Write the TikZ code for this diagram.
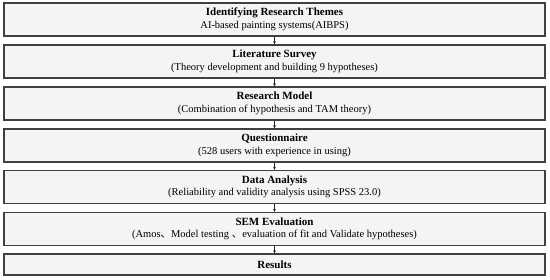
\documentclass[tikz,border=0pt]{standalone}
\usepackage{fontspec}
\setmainfont{Liberation Serif}
\newfontfamily\cjk{Noto Sans CJK SC}
\usetikzlibrary{arrows.meta}
\definecolor{boxfill}{HTML}{F4F4F4}
\definecolor{boxline}{HTML}{404040}
\newcommand{\stagetitle}[1]{{\fontsize{11}{12.5}\selectfont\bfseries #1}}
\begin{document}
\begin{tikzpicture}[x=1pt,y=-1pt,
  stagebox/.style={draw=boxline,fill=boxfill,line width=1.1pt,minimum width=541pt,minimum height=33pt,inner sep=0pt,align=center,font=\fontsize{10.5}{12.5}\selectfont},
  flowarrow/.style={draw=black!85,line width=0.6pt,-{Stealth[length=3.2pt,width=2.8pt]}}]
\useasboundingbox (0,0) rectangle (550,280);
\node[stagebox] (b1) at (274.5,19.5) {\stagetitle{Identifying Research Themes}\\AI-based painting systems(AIBPS)};
\node[stagebox] (b2) at (274.5,61.5) {\stagetitle{Literature Survey}\\(Theory development and building 9 hypotheses)};
\node[stagebox] (b3) at (274.5,103.5) {\stagetitle{Research Model}\\(Combination of hypothesis and TAM theory)};
\node[stagebox] (b4) at (274.5,145.5) {\stagetitle{Questionnaire}\\(528 users with experience in using)};
\node[stagebox] (b5) at (274.5,187) {\stagetitle{Data Analysis}\\(Reliability and validity analysis using SPSS 23.0)};
\node[stagebox] (b6) at (274.5,229) {\stagetitle{SEM Evaluation}\\(Amos{\cjk 、}Model testing {\cjk 、}evaluation of fit and Validate hypotheses)};
\node[stagebox,minimum height=21pt] (b7) at (274.5,264.5) {\stagetitle{Results}};
\draw[flowarrow] (b1.south) -- (b2.north);
\draw[flowarrow] (b2.south) -- (b3.north);
\draw[flowarrow] (b3.south) -- (b4.north);
\draw[flowarrow] (b4.south) -- (b5.north);
\draw[flowarrow] (b5.south) -- (b6.north);
\draw[flowarrow] (b6.south) -- (b7.north);
\end{tikzpicture}
\end{document}
